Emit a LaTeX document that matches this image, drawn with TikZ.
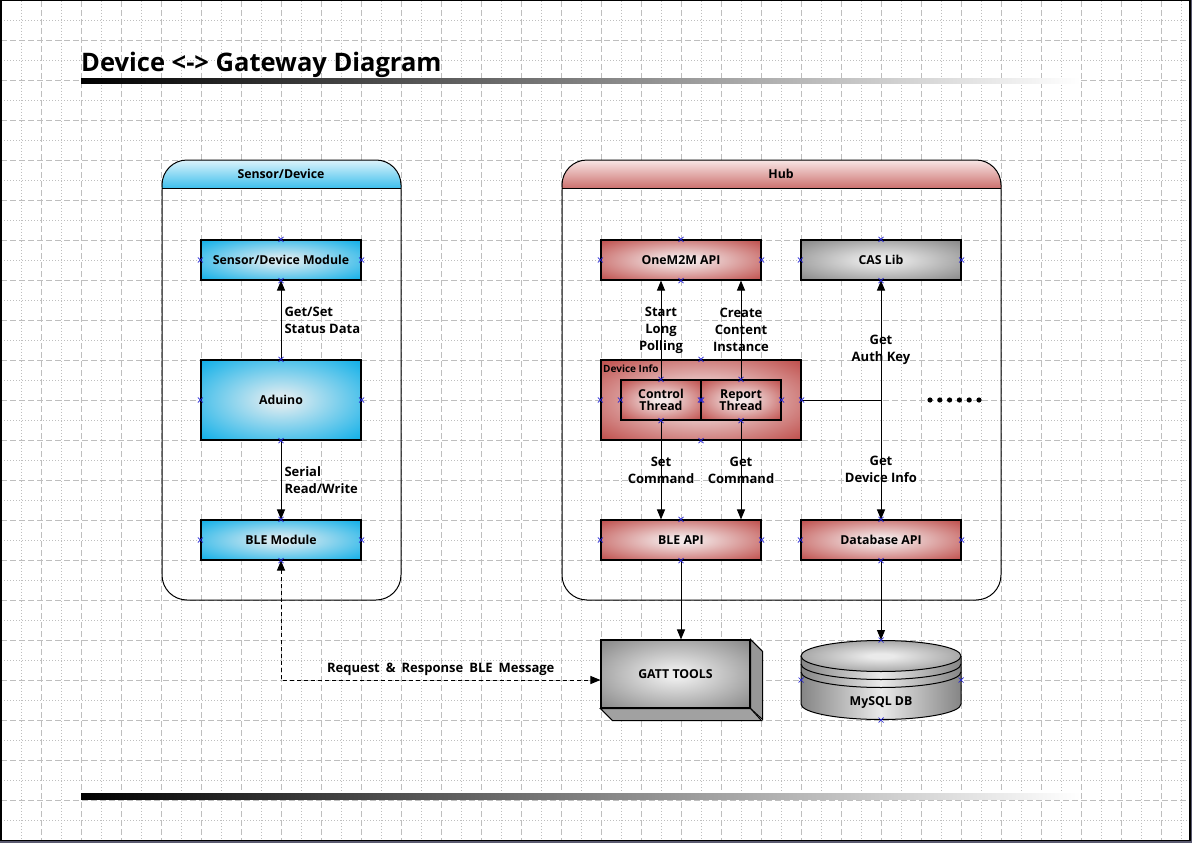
\documentclass[tikz,border=0pt]{standalone}
\usepackage{fontspec}
\setmainfont{Open Sans}
\usepackage{tikz}
\usetikzlibrary{arrows.meta,calc,positioning}
\definecolor{skyedge}{HTML}{0AAEE8}
\definecolor{skymid}{HTML}{D6E9F0}
\definecolor{skytop}{HTML}{DCF3FB}
\definecolor{rededge}{HTML}{BE4B48}
\definecolor{redmid}{HTML}{F3E7E7}
\definecolor{redtop}{HTML}{F8E6E5}
\definecolor{grayedge}{HTML}{858585}
\definecolor{graymid}{HTML}{EAEAEA}
\definecolor{grayside}{HTML}{979797}
\definecolor{gridline}{HTML}{BEBEBE}
\definecolor{cpblue}{HTML}{2424D8}
\definecolor{frameshade}{HTML}{5A5A70}
\pgfdeclareradialshading{skyglow}{\pgfpoint{0bp}{0bp}}{color(0bp)=(skymid); color(4bp)=(skymid); color(36bp)=(skyedge); color(60bp)=(skyedge)}
\pgfdeclareradialshading{redglow}{\pgfpoint{0bp}{0bp}}{color(0bp)=(redmid); color(4bp)=(redmid); color(36bp)=(rededge); color(60bp)=(rededge)}
\pgfdeclareradialshading{grayglow}{\pgfpoint{0bp}{0bp}}{color(0bp)=(graymid); color(4bp)=(graymid); color(36bp)=(grayedge); color(60bp)=(grayedge)}
\newcommand{\boxfont}{\fontsize{12.3}{14}\selectfont\bfseries}
\newcommand{\labfont}{\fontsize{13}{17}\selectfont\bfseries}
\newcommand{\cpmark}[1]{\draw[cpx] ($(#1)+(-2.5,-2.5)$) -- ($(#1)+(2.5,2.5)$) ($(#1)+(-2.5,2.5)$) -- ($(#1)+(2.5,-2.5)$);}
\tikzset{
  gridmajor/.style={draw=gridline, line width=0.8pt, dash pattern=on 6pt off 3pt},
  gridminor/.style={draw=gridline, line width=0.8pt, dash pattern=on 1pt off 2pt},
  blockbox/.style={draw=black, line width=1.1pt, minimum width=160, minimum height=40, inner sep=0pt, font=\boxfont, align=center},
  skybox/.style={blockbox, shading=skyglow},
  redbox/.style={blockbox, shading=redglow},
  graybox/.style={blockbox, shading=grayglow},
  panel/.style={draw=black, line width=1pt, rounded corners=25},
  flow/.style={draw=black, line width=1pt, -{Triangle[length=10pt,width=8pt]}},
  twoway/.style={flow, {Triangle[length=10pt,width=8pt]}-{Triangle[length=10pt,width=8pt]}},
  labr/.style={font=\labfont, align=left, right, inner sep=3pt},
  labc/.style={font=\labfont, align=center, inner sep=0pt},
  cpx/.style={draw=cpblue, line width=0.7pt}
}

\begin{document}
\begin{tikzpicture}[x=1pt, y=-1pt]
  \useasboundingbox (0,0) rectangle (1192,843);
  % page and grid
  \fill[frameshade] (0,0) rectangle (1192,843);
  \fill[white] (0,0) rectangle (1190,841);
  \foreach \x in {21,61,...,1181} \draw[gridminor] (\x,1) -- (\x,840);
  \foreach \x in {41,81,...,1161} \draw[gridmajor] (\x,1) -- (\x,840);
  \foreach \y in {20,60,...,820} \draw[gridminor] (1,\y) -- (1189,\y);
  \foreach \y in {40,80,...,800} \draw[gridmajor] (1,\y) -- (1189,\y);
  \draw[black, line width=1.5pt] (0.75,0.75) rectangle (1189.75,840.5);

  % title
  \node[font=\fontsize{25.5}{30}\selectfont\bfseries, anchor=base west, inner sep=0pt] (title) at (81,72) {Device <-> Gateway Diagram};
  \shade[left color=black, right color=white] (81,79) rectangle (1080,84);
  \shade[left color=black, right color=white] (81,793) rectangle (1080,799);

  % panels
  \begin{scope}
    \clip (162,160) rectangle (401,188);
    \shade[top color=skytop, bottom color=skyedge, middle color=skyedge!75!skytop, rounded corners=25] (162,160) rectangle (401,216);
  \end{scope}
  \begin{scope}
    \clip (562,160) rectangle (1001,188);
    \shade[top color=redtop, bottom color=rededge, middle color=rededge!75!redtop, rounded corners=25] (562,160) rectangle (1001,216);
  \end{scope}
  \draw[panel] (162,160) rectangle (401,600);
  \draw[panel] (562,160) rectangle (1001,600);
  \draw[line width=1pt] (162,188) -- (401,188);
  \draw[line width=1pt] (562,188) -- (1001,188);
  \node[font=\boxfont] (sensorhead) at (281,174) {Sensor/Device};
  \node[font=\boxfont] (hubhead) at (781,174) {Hub};

  % sensor side
  \node[skybox] (sdm) at (281,260) {Sensor/Device Module};
  \node[skybox, minimum height=80] (adu) at (281,400) {Aduino};
  \node[skybox] (blem) at (281,540) {BLE Module};

  % hub side
  \node[redbox] (onem) at (681,260) {OneM2M API};
  \node[graybox] (caslib) at (881,260) {CAS Lib};
  \node[redbox, minimum width=200, minimum height=80] (dinfo) at (701,400) {};
  \node[font=\fontsize{10}{11}\selectfont\bfseries, anchor=west, inner sep=0pt] (dinfolab) at (603,369) {Device Info};
  \node[redbox, minimum width=80] (ctl) at (661,400) {Control\\[-2pt]Thread};
  \node[redbox, minimum width=80] (rep) at (741,400) {Report\\[-2pt]Thread};
  \node[redbox] (bleapi) at (681,540) {BLE API};
  \node[redbox] (dbapi) at (881,540) {Database API};
  \foreach \i in {0,...,5} \fill (930+9.8*\i,400) circle (2.6);

  % gatt tools
  \node[graybox, minimum width=149, minimum height=68] (gatt) at (675.5,674) {GATT TOOLS};
  \filldraw[fill=grayside, draw=black, line width=1pt] (gatt.north east) -- ++(12,12) -- ++(0,68) -- (gatt.south east) -- cycle;
  \filldraw[fill=grayside!90!white, draw=black, line width=1pt] (gatt.south west) -- ++(12,12) -- ++(149,0) -- (gatt.south east) -- cycle;
  \coordinate (gattport) at ($(gatt.west)+(0,6)$);

  % mysql
  \shade[left color=grayedge, right color=grayedge, middle color=graymid]
    (801,656) -- (801,704) arc[start angle=180, end angle=0, x radius=80, y radius=15.5] -- (961,656) arc[start angle=0, end angle=-180, x radius=80, y radius=15.5] -- cycle;
  \draw[line width=1pt] (801,656) -- (801,704) arc[start angle=180, end angle=0, x radius=80, y radius=15.5] -- (961,656);
  \shade[shading=grayglow, draw=black, line width=1pt] (881,656) ellipse[x radius=80, y radius=15.5];
  \draw[line width=1pt] (801,664) arc[start angle=180, end angle=0, x radius=80, y radius=15.5];
  \draw[line width=1pt] (801,672) arc[start angle=180, end angle=0, x radius=80, y radius=15.5];
  \node[font=\boxfont] (mysqllab) at (881,703) {MySQL DB};
  \coordinate (dbtop) at (881,640);
  \coordinate (dbleft) at (801,680);
  \coordinate (dbright) at (961,680);
  \coordinate (dbbot) at (881,720);

  % connectors
  \draw[flow] (adu.north) -- (sdm.south) node[labr, midway] {Get/Set\\Status Data};
  \draw[flow] (adu.south) -- (blem.north) node[labr, midway] {Serial\\Read/Write};
  \draw[twoway, dash pattern=on 4pt off 3pt] (blem.south) |- (gattport)
    node[font=\labfont, pos=0.75, above, inner sep=4pt] {Request\hspace{6pt}\&\hspace{6pt}Response\hspace{6pt}BLE\hspace{6pt}Message};
  \draw[flow] (ctl.north) -- (ctl.north |- onem.south) node[labc, midway] {Start\\Long\\Polling};
  \draw[flow] (rep.north) -- (rep.north |- onem.south) node[labc, midway] {Create\\Content\\Instance};
  \draw[flow] (ctl.south) -- (ctl.south |- bleapi.north) node[labc, midway] {Set\\Command};
  \draw[flow] (rep.south) -- (rep.south |- bleapi.north) node[labc, midway] {Get\\Command};
  \draw[line width=1pt] (dinfo.east) -- (dinfo.east -| caslib.south);
  \draw[twoway] (caslib.south) -- (dbapi.north)
    node[labc, pos=0.29] {Get\\Auth Key}
    node[labc, pos=0.79] {Get\\Device Info};
  \draw[flow] (bleapi.south) -- (bleapi.south |- gatt.north);
  \draw[flow] (dbapi.south) -- (dbtop);

  % connection points
  \foreach \n in {sdm,adu,blem,onem,caslib,dinfo,ctl,rep,bleapi,dbapi}
    \foreach \a in {north,south,east,west} {\cpmark{\n.\a}}
  \foreach \p in {dbtop,dbleft,dbright,dbbot} {\cpmark{\p}}
\end{tikzpicture}
\end{document}
